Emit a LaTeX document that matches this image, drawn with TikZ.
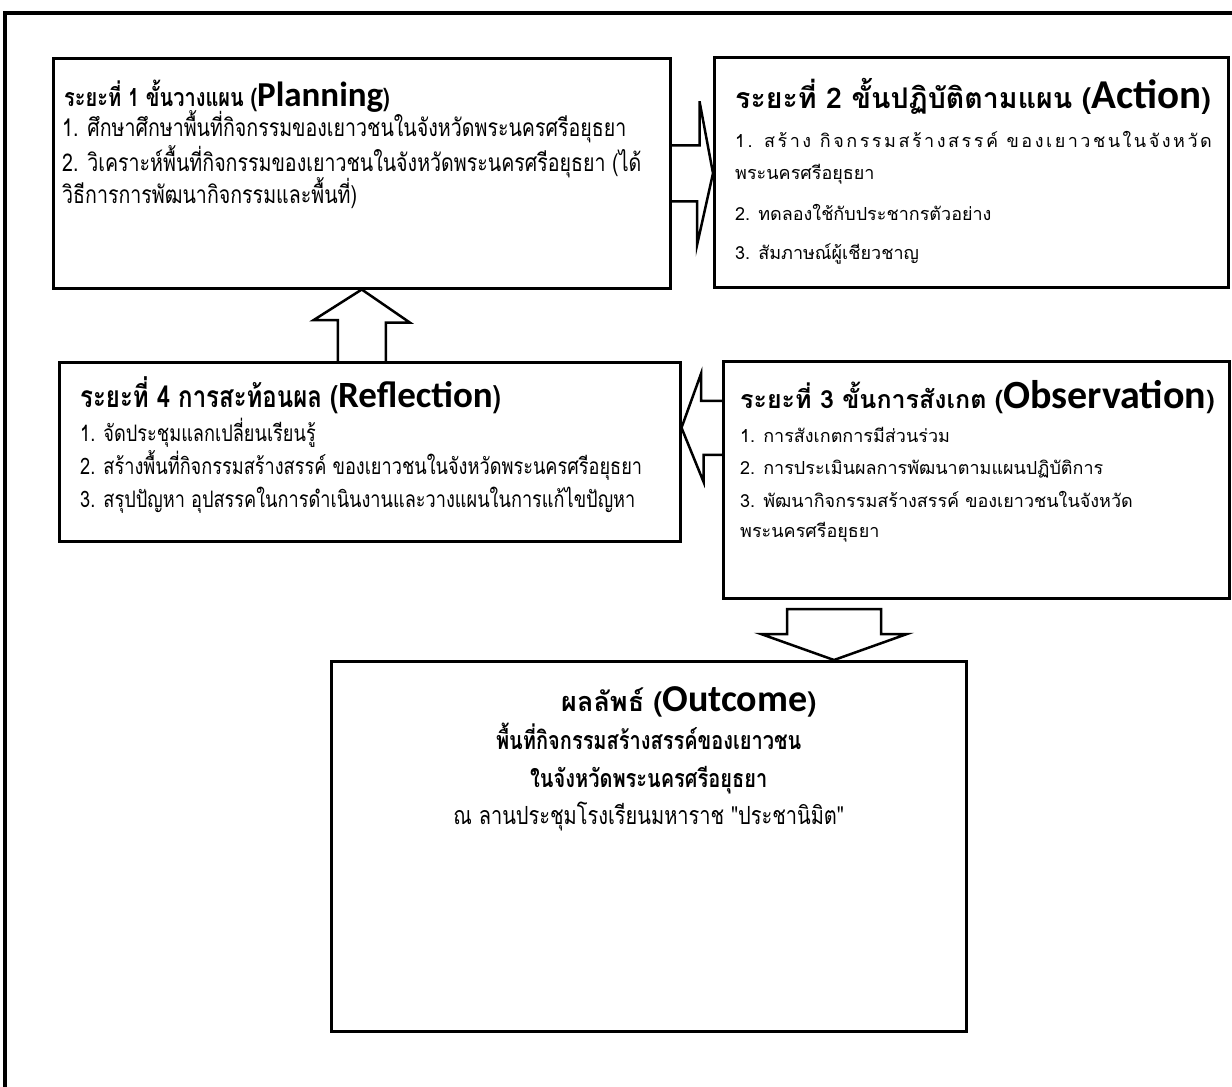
\documentclass[tikz,border=0pt]{standalone}
\usepackage{fontspec}
\setmainfont{Loma}[Script=Thai]
\newfontfamily\narrowthai{Loma}[Script=Thai, FakeStretch=0.8]
\newfontfamily\engfont{Carlito}
\usetikzlibrary{calc}
\newcommand\eng[2][34]{{\engfont\bfseries\fontsize{#1}{#1}\selectfont #2}}

\tikzset{
  stage/.style={draw, line width=2.5pt, anchor=north west, inner sep=0pt},
  item/.style={anchor=base west, inner sep=0pt, font=\fontsize{18}{22}\selectfont},
  planitem/.style={item, font=\narrowthai\fontsize{24.5}{28}\selectfont},
  reflitem/.style={item, font=\narrowthai\fontsize{22.7}{28}\selectfont},
  planhead/.style={item, font=\narrowthai\bfseries\fontsize{25}{28}\selectfont},
  reflhead/.style={item, font=\narrowthai\bfseries\fontsize{30}{32}\selectfont},
  acthead/.style={item, font=\bfseries\fontsize{28.5}{32}\selectfont},
  obshead/.style={item, font=\bfseries\fontsize{25}{30}\selectfont},
  outline/.style={anchor=base, inner sep=0pt, font=\narrowthai\bfseries\fontsize{25}{28}\selectfont},
  barrow/.style={draw, line width=2.5pt, line join=miter},
}

\begin{document}
\begin{tikzpicture}[x=1pt, y=-1pt]
\useasboundingbox (0,0) rectangle (1232,1087);
\draw[line width=4pt] (5,1100) -- (5,13) -- (1240,13);

\node[stage, minimum width=617pt, minimum height=230pt] (plan) at (52,57) {};
\node[stage, minimum width=514pt, minimum height=230pt] (act) at (713,56) {};
\node[stage, minimum width=621pt, minimum height=179pt] (refl) at (58,361) {};
\node[stage, minimum width=506pt, minimum height=237pt] (obs) at (722,360) {};
\node[stage, minimum width=635pt, minimum height=370pt] (out) at (330,660) {};

\node[planhead] (plan-h) at ([shift={(12,49)}]plan.north west) {ระยะที่ 1 ขั้นวางแผน (\eng[35]{Planning})};
\node[planitem] (plan-1) at ([shift={(10,79)}]plan.north west) {1. ศึกษาศึกษาพื้นที่กิจกรรมของเยาวชนในจังหวัดพระนครศรีอยุธยา};
\node[planitem] (plan-2) at ([shift={(10,114)}]plan.north west) {2. วิเคราะห์พื้นที่กิจกรรมของเยาวชนในจังหวัดพระนครศรีอยุธยา (ได้};
\node[planitem] (plan-3) at ([shift={(10,146)}]plan.north west) {วิธีการการพัฒนากิจกรรมและพื้นที่)};

\node[acthead] (act-h) at ([shift={(22,52)}]act.north west) {ระยะที่ 2 ขั้นปฏิบัติตามแผน (\eng[41]{Action})};
\node[item] (act-1) at ([shift={(22,91)}]act.north west) {{\addfontfeature{LetterSpace=14}1. สร้าง กิจกรรมสร้างสรรค์ ของเยาวชนในจังหวัด}};
\node[item] (act-1b) at ([shift={(22,123)}]act.north west) {พระนครศรีอยุธยา};
\node[item] (act-2) at ([shift={(22,164)}]act.north west) {2. ทดลองใช้กับประชากรตัวอย่าง};
\node[item] (act-3) at ([shift={(22,203)}]act.north west) {3. สัมภาษณ์ผู้เชียวชาญ};

\node[reflhead] (refl-h) at ([shift={(22,46)}]refl.north west) {ระยะที่ 4 การสะท้อนผล (\eng[37]{Reflection})};
\node[reflitem] (refl-1) at ([shift={(22,80)}]refl.north west) {1. จัดประชุมแลกเปลี่ยนเรียนรู้};
\node[reflitem] (refl-2) at ([shift={(22,113)}]refl.north west) {2. สร้างพื้นที่กิจกรรมสร้างสรรค์ ของเยาวชนในจังหวัดพระนครศรีอยุธยา};
\node[reflitem] (refl-3) at ([shift={(22,146)}]refl.north west) {3. สรุปปัญหา อุปสรรคในการดำเนินงานและวางแผนในการแก้ไขปัญหา};

\node[obshead] (obs-h) at ([shift={(18,48)}]obs.north west) {ระยะที่ 3 ขั้นการสังเกต (\eng[40]{Observation})};
\node[item] (obs-1) at ([shift={(18,82)}]obs.north west) {1. การสังเกตการมีส่วนร่วม};
\node[item] (obs-2) at ([shift={(18,114)}]obs.north west) {2. การประเมินผลการพัฒนาตามแผนปฏิบัติการ};
\node[item] (obs-3) at ([shift={(18,147)}]obs.north west) {3. พัฒนากิจกรรมสร้างสรรค์ ของเยาวชนในจังหวัด};
\node[item] (obs-3b) at ([shift={(18,177)}]obs.north west) {พระนครศรีอยุธยา};

\node[outline] (out-h) at ([shift={(40,51)}]out.north) {{\normalfont\bfseries\fontsize{27}{32}\selectfont ผลลัพธ์ (}\eng[38]{Outcome}{\normalfont\bfseries\fontsize{27}{32}\selectfont )}};
\node[outline] (out-1) at ([shift={(0,89)}]out.north) {พื้นที่กิจกรรมสร้างสรรค์ของเยาวชน};
\node[outline] (out-2) at ([shift={(0,127)}]out.north) {ในจังหวัดพระนครศรีอยุธยา};
\node[outline, font=\narrowthai\fontsize{25}{28}\selectfont] (out-3) at ([shift={(0,164)}]out.north) {ณ ลานประชุมโรงเรียนมหาราช "ประชานิมิต"};

\draw[barrow] (plan.east) ++(0,-28) -- ++(28,0) -- ++(0,-44) -- (act.west |- plan.east) -- ++(-16,72) -- ++(0,-44) -- ++(-28,0);
\draw[barrow] ($(plan.south |- refl.north)+(-24,0)$) -- ++(0,-41) -- ++(-24,0) -- (plan.south) -- ++(48,33) -- ++(-24,0) -- ++(0,41);
\draw[barrow] (obs.west) ++(0,-79) -- ++(-21,0) -- ++(0,-27) -- ($(refl.east |- obs.west)+(0,-52)$) -- ++(22,54) -- ++(0,-27) -- ++(21,0);
\coordinate (dtip) at ($(out.north west)+(504,0)$);
\draw[barrow] (dtip) -- ++(-73,-26) -- ++(26,0) -- ++(0,-25) -- ++(94,0) -- ++(0,25) -- ++(26,0) -- cycle;
\end{tikzpicture}
\end{document}
